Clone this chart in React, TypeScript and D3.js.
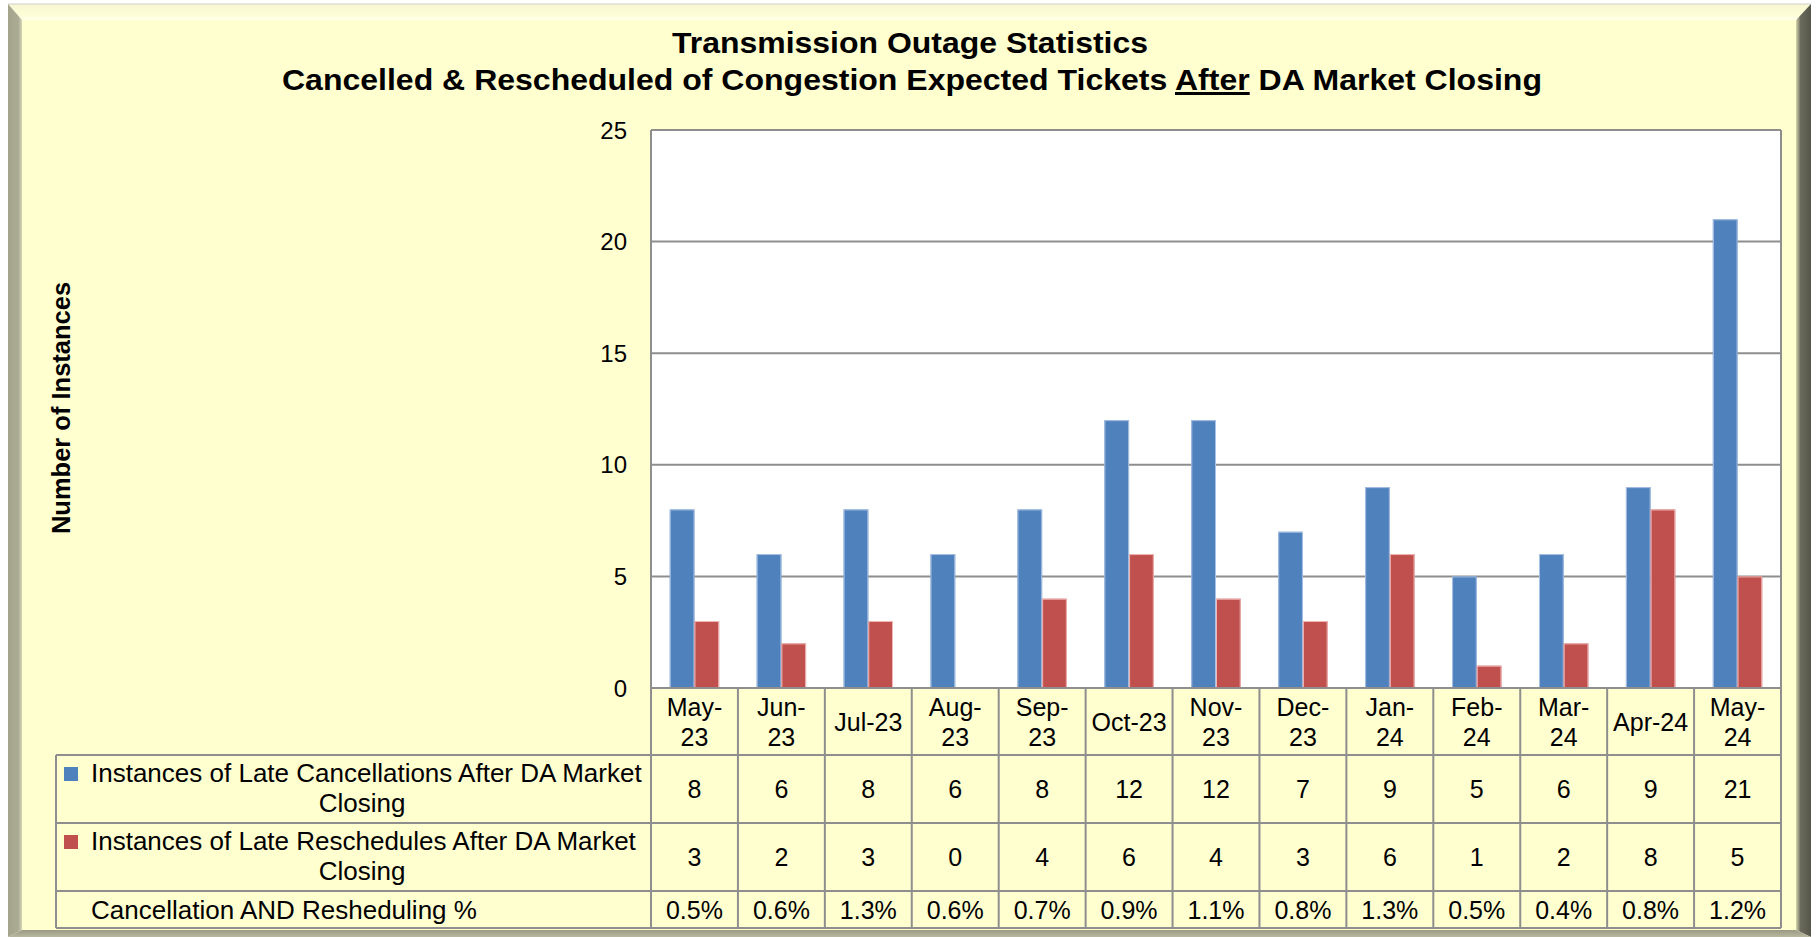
import React from "react";
import * as d3 from "d3";

const categories = ["May-23","Jun-23","Jul-23","Aug-23","Sep-23","Oct-23","Nov-23","Dec-23","Jan-24","Feb-24","Mar-24","Apr-24","May-24"];
const cancellations = [8,6,8,6,8,12,12,7,9,5,6,9,21];
const reschedules = [3,2,3,0,4,6,4,3,6,1,2,8,5];
const percentages = [0.5,0.6,1.3,0.6,0.7,0.9,1.1,0.8,1.3,0.5,0.4,0.8,1.2];
const yTicks = [0,5,10,15,20,25];
const singleLineLabels = ["Jul-23","Oct-23","Apr-24"];
const seriesKeys = ["cancel","resched"];
const seriesNames = ["Instances of Late Cancellations After DA Market Closing","Instances of Late Reschedules After DA Market Closing"];
const seriesColors = ["#4f81bd","#c0504d"];
const seriesEdges = ["#a9c1e3","#f0b8b6"];
const pctRowName = "Cancellation AND Resheduling %";
const titleLine1 = "Transmission Outage Statistics";
const titleLine2a = "Cancelled & Rescheduled of Congestion Expected Tickets ";
const titleLine2b = "After";
const titleLine2c = " DA Market Closing";
const yAxisTitle = "Number of Instances";

const W = 1818, H = 937;
const FONT = "'Liberation Sans', Arial, Helvetica, sans-serif";
const plot = { left: 651, right: 1781, top: 130, bottom: 688 };
const rowEdges = [688, 755, 823, 891, 928];
const tableLeft = 56;
const GRID = "#8e8e8e";
const FACE = "#ffffd0";

export default function App() {
  const x = d3.scaleBand<string>().domain(categories).range([plot.left, plot.right]).paddingInner(0).paddingOuter(0);
  const x1 = d3.scaleBand<string>().domain(seriesKeys).range([0, x.bandwidth()]).paddingInner(0).paddingOuter(0.76);
  const y = d3.scaleLinear().domain([0, 25]).range([plot.bottom, plot.top]);
  const series = [cancellations, reschedules];

  const splitName = (s: string) => {
    const i = s.lastIndexOf(" ");
    return [s.slice(0, i), s.slice(i + 1)];
  };

  return (
    <svg width={W} height={H} style={{ position: "absolute", left: 0, top: 0, background: "#fff" }} fontFamily={FONT}>
      <defs>
        <linearGradient id="rightBev" x1="0" x2="1" y1="0" y2="0">
          <stop offset="0" stopColor="#d8d8b0" />
          <stop offset="0.3" stopColor="#6a6a5c" />
          <stop offset="1" stopColor="#55554a" />
        </linearGradient>
        <linearGradient id="leftBev" x1="0" x2="1" y1="0" y2="0">
          <stop offset="0" stopColor="#a4a48c" />
          <stop offset="0.75" stopColor="#acac94" />
          <stop offset="1" stopColor="#d6d6b8" />
        </linearGradient>
        <linearGradient id="topBev" x1="0" x2="0" y1="0" y2="1">
          <stop offset="0" stopColor="#f6f6d0" />
          <stop offset="0.7" stopColor="#fdfdd6" />
          <stop offset="1" stopColor="#ffffee" />
        </linearGradient>
        <linearGradient id="botBev" x1="0" x2="0" y1="0" y2="1">
          <stop offset="0" stopColor="#9a9a84" />
          <stop offset="1" stopColor="#b8b8a0" />
        </linearGradient>
      </defs>

      {/* frame */}
      <rect x={22} y={20} width={1796 - 22} height={930 - 20} fill={FACE} />
      <polygon points="8,4 1811,4 1796,20 22,20" fill="url(#topBev)" />
      <line x1={8} y1={4} x2={1811} y2={4} stroke="#cfcfcf" strokeWidth={1} />
      <polygon points="8,4 22,20 22,930 8,937" fill="url(#leftBev)" />
      <polygon points="1811,4 1811,937 1796,930 1796,20" fill="url(#rightBev)" />
      <polygon points="8,937 22,930 1796,930 1811,937" fill="url(#botBev)" />

      {/* title */}
      <text x={910} y={53} textAnchor="middle" fontWeight="bold" fontSize={30} textLength={476} lengthAdjust="spacingAndGlyphs" fill="#000">{titleLine1}</text>
      <text x={912} y={90} textAnchor="middle" fontWeight="bold" fontSize={30} textLength={1260} lengthAdjust="spacingAndGlyphs" fill="#000">
        {titleLine2a}
        <tspan style={{ textDecoration: "underline" }}>{titleLine2b}</tspan>
        {titleLine2c}
      </text>

      {/* plot area */}
      <rect x={plot.left} y={plot.top} width={plot.right - plot.left} height={plot.bottom - plot.top} fill="#fff" />
      {yTicks.map((t) => (
        <line key={"g" + t} x1={plot.left} x2={plot.right} y1={y(t)} y2={y(t)} stroke={GRID} strokeWidth={2} />
      ))}
      <line x1={plot.right} x2={plot.right} y1={plot.top} y2={plot.bottom} stroke={GRID} strokeWidth={2} />
      {yTicks.map((t) => (
        <text key={"t" + t} x={627} y={y(t)} dy="0.36em" textAnchor="end" fontSize={24} fill="#000">{t}</text>
      ))}
      <text transform={`translate(70,408) rotate(-90)`} textAnchor="middle" fontWeight="bold" fontSize={25.5} fill="#000">{yAxisTitle}</text>

      {/* bars */}
      {categories.map((c, i) => (
        <g key={"b" + c}>
          {series.map((vals, s) => {
            const bx = (x(c) as number) + (x1(seriesKeys[s]) as number);
            const by = y(vals[i]);
            const h = plot.bottom - by;
            if (h <= 0) return null;
            return (
              <g key={s}>
                <rect x={bx} y={by} width={x1.bandwidth()} height={h} fill={seriesColors[s]} />
                <rect x={bx + 0.5} y={by + 0.5} width={x1.bandwidth() - 1} height={h - 1} fill="none" stroke={seriesEdges[s]} strokeWidth={1} />
              </g>
            );
          })}
        </g>
      ))}

      {/* data table lines */}
      <line x1={plot.left} x2={plot.right} y1={plot.bottom} y2={plot.bottom} stroke={GRID} strokeWidth={2} />
      {rowEdges.slice(1).map((ry) => (
        <line key={"r" + ry} x1={tableLeft} x2={plot.right} y1={ry} y2={ry} stroke={GRID} strokeWidth={2} />
      ))}
      <line x1={tableLeft} x2={tableLeft} y1={rowEdges[1]} y2={rowEdges[4]} stroke={GRID} strokeWidth={2} />
      <line x1={plot.left} x2={plot.left} y1={plot.top} y2={rowEdges[4]} stroke={GRID} strokeWidth={2} />
      {categories.map((c) => (
        <line key={"v" + c} x1={(x(c) as number) + x.bandwidth()} x2={(x(c) as number) + x.bandwidth()} y1={plot.bottom} y2={rowEdges[4]} stroke={GRID} strokeWidth={2} />
      ))}

      {/* category labels */}
      {categories.map((c) => {
        const cx = (x(c) as number) + x.bandwidth() / 2;
        if (singleLineLabels.includes(c)) {
          return <text key={"c" + c} x={cx} y={721.5} dy="0.36em" textAnchor="middle" fontSize={25} fill="#000">{c}</text>;
        }
        const k = c.indexOf("-");
        return (
          <g key={"c" + c}>
            <text x={cx} y={706.5} dy="0.36em" textAnchor="middle" fontSize={25} fill="#000">{c.slice(0, k + 1)}</text>
            <text x={cx} y={736.5} dy="0.36em" textAnchor="middle" fontSize={25} fill="#000">{c.slice(k + 1)}</text>
          </g>
        );
      })}

      {/* series rows */}
      {seriesNames.map((name, s) => {
        const top = rowEdges[1 + s];
        const bot = rowEdges[2 + s];
        const [l1, l2] = splitName(name);
        return (
          <g key={"row" + s}>
            <rect x={64} y={top + 12} width={14} height={14} fill={seriesColors[s]} />
            <text x={91} y={top + 18} dy="0.36em" fontSize={26} fill="#000">{l1}</text>
            <text x={362} y={top + 48} dy="0.36em" textAnchor="middle" fontSize={26} fill="#000">{l2}</text>
            {categories.map((c, i) => (
              <text key={c} x={(x(c) as number) + x.bandwidth() / 2} y={(top + bot) / 2} dy="0.36em" textAnchor="middle" fontSize={25} fill="#000">{series[s][i]}</text>
            ))}
          </g>
        );
      })}
      <g>
        <text x={91} y={(rowEdges[3] + rowEdges[4]) / 2} dy="0.36em" fontSize={26} fill="#000">{pctRowName}</text>
        {categories.map((c, i) => (
          <text key={c} x={(x(c) as number) + x.bandwidth() / 2} y={(rowEdges[3] + rowEdges[4]) / 2} dy="0.36em" textAnchor="middle" fontSize={25} fill="#000">{percentages[i].toFixed(1) + "%"}</text>
        ))}
      </g>
    </svg>
  );
}
